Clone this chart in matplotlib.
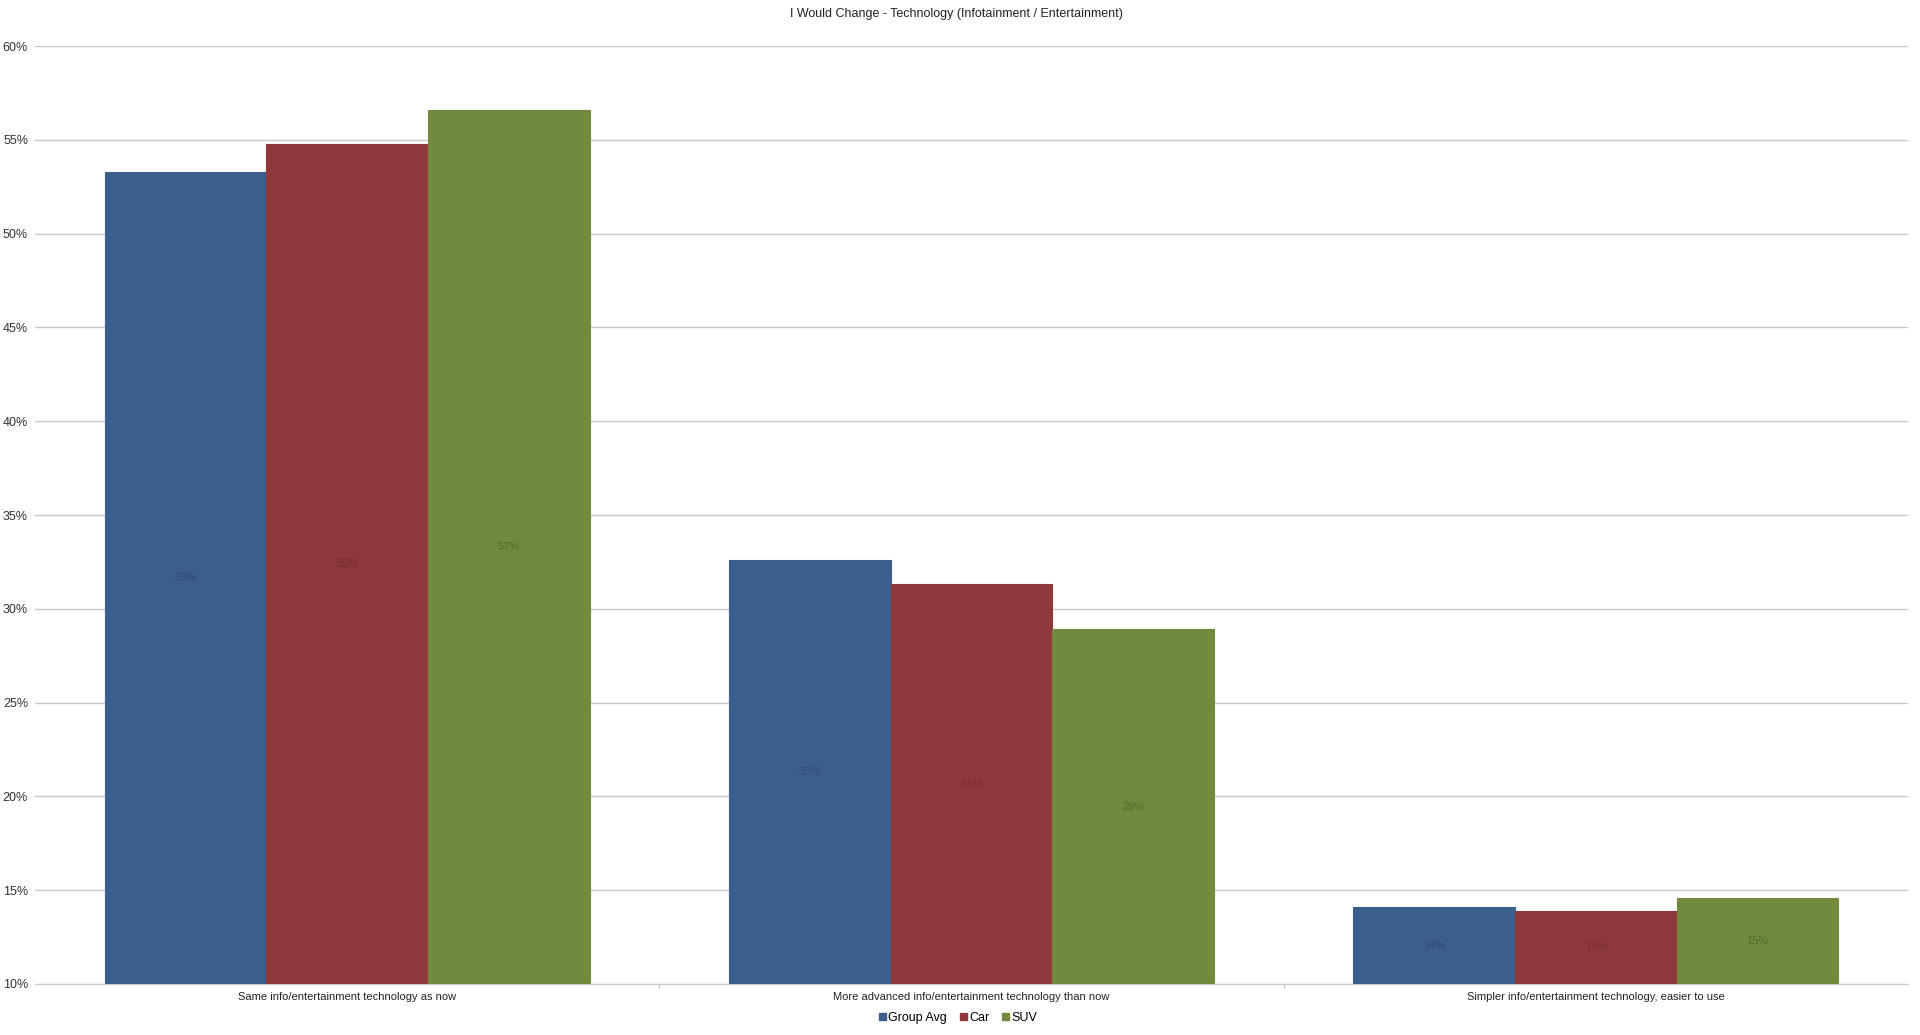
import matplotlib
matplotlib.use("Agg")
import matplotlib.pyplot as plt
import numpy as np
from matplotlib.patches import Patch

title = "I Would Change - Technology (Infotainment / Entertainment)"
categories = [
    "Same info/entertainment technology as now",
    "More advanced info/entertainment technology than now",
    "Simpler info/entertainment technology, easier to use",
]
series_names = ["Group Avg", "Car", "SUV"]
group_avg = [53.3, 32.6, 14.1]
car = [54.8, 31.3, 13.9]
suv = [56.6, 28.9, 14.6]
yticks = [10, 15, 20, 25, 30, 35, 40, 45, 50, 55, 60]

colors = ["#3b5e8c", "#8e383a", "#728a3e"]
label_colors = ["#2e4b72", "#732d2f", "#55682e"]

plt.rcParams['font.family'] = ['Liberation Sans', 'DejaVu Sans']
narrow = ['Liberation Sans Narrow', 'Liberation Sans', 'DejaVu Sans']

fig = plt.figure(figsize=(19.2, 10.35), dpi=100)
ax = fig.add_axes([35/1920, 1-984/1035, (1908-35)/1920, (984-46)/1035])

x = np.arange(len(categories))
bw = 0.259
all_series = [group_avg, car, suv]
for i, (name, vals) in enumerate(zip(series_names, all_series)):
    pos = x + (i - 1) * bw
    ax.bar(pos, np.array(vals) - 10, bottom=10, width=bw, color=colors[i],
           edgecolor=colors[i], linewidth=0.8, zorder=3, label=name)
    for p, v in zip(pos, vals):
        ax.text(p, (v + 10) / 2, f"{v:.0f}%", ha='center', va='center',
                fontsize=8, color=label_colors[i], zorder=4, family=narrow)

ax.set_xlim(-0.5, 2.5)
ax.set_ylim(10, 60)
ax.set_yticks(yticks)
ax.set_yticklabels([f"{t}%" for t in yticks], fontsize=9, color="#333333")
ax.yaxis.grid(True, color="#c8c8c8", linewidth=1, zorder=0)
ax.tick_params(axis='y', length=0, pad=5)

ax.set_xticks(x)
ax.set_xticklabels(categories, fontsize=8, color="#222222", family=narrow)
ax.set_xticks([0.5, 1.5], minor=True)
ax.tick_params(axis='x', which='major', length=0, pad=6)
ax.tick_params(axis='x', which='minor', length=3, color="#aaaaaa")

for s in ['top', 'left', 'right']:
    ax.spines[s].set_visible(False)
ax.spines['bottom'].set_color("#c8c8c8")

fig.text(956/1920, 1 - 14/1035, title, ha='center', va='center', fontsize=9, color="#222222")

handles = [Patch(facecolor=c, edgecolor=c) for c in colors]
fig.legend(handles, series_names, loc='center', bbox_to_anchor=(958/1920, 1 - 1018/1035),
           ncol=3, frameon=False, handlelength=0.55, handleheight=0.55,
           handletextpad=0.2, columnspacing=1.0, prop={'family': narrow, 'size': 9})

fig.savefig("out.png", dpi=100)
